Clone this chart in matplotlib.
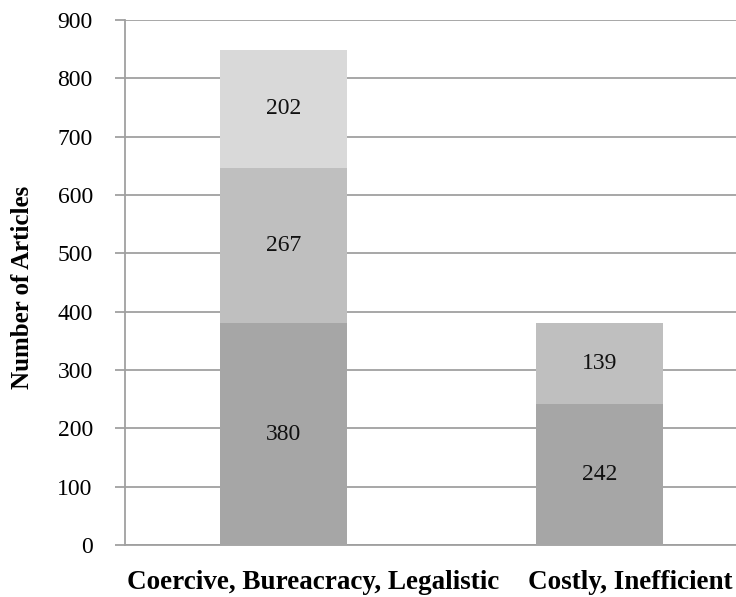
import matplotlib
matplotlib.use("Agg")
import matplotlib.pyplot as plt
import matplotlib.transforms as mtransforms
import numpy as np

categories = ["Coercive, Bureacracy, Legalistic", "Costly, Inefficient"]
series_bottom = [380, 242]
series_middle = [267, 139]
series_top = [202, 0]
yticks = [0, 100, 200, 300, 400, 500, 600, 700, 800, 900]

colors = ["#a6a6a6", "#bfbfbf", "#d9d9d9"]
serif = ["Liberation Serif", "DejaVu Serif"]

fig = plt.figure(figsize=(7.36, 5.97), dpi=100)
left_px, right_px = 125, 758
bottom_px, top_px = 545, 20
W, H = 736, 597
ax = fig.add_axes([left_px / W, (H - bottom_px) / H,
                   (right_px - left_px) / W, (bottom_px - top_px) / H])

x = np.arange(len(categories))
width = 0.40
layers = [series_bottom, series_middle, series_top]
base = np.zeros(len(categories))
for vals, c in zip(layers, colors):
    vals = np.array(vals, dtype=float)
    ax.bar(x, vals, width, bottom=base, color=c, zorder=3)
    for xi, b, v in zip(x, base, vals):
        if v > 0:
            ax.text(xi, b + v / 2, f"{int(v)}", ha="center", va="center",
                    fontsize=17, family=serif, color="#111111", zorder=4)
    base = base + vals

ax.set_xlim(-0.5, 1.5)
ax.set_ylim(0, 900)
ax.set_yticks(yticks)
ax.set_yticklabels([str(t) for t in yticks], family=serif, fontsize=17)
ax.yaxis.grid(True, color="#a0a0a0", linewidth=1.3, zorder=0)
ax.set_axisbelow(True)
ax.set_xticks(x)
ax.set_xticklabels(categories, family=serif, fontsize=19.5, fontweight="bold")
ax.tick_params(axis="x", length=0, pad=18)
ax.tick_params(axis="y", length=7.2, width=1.3, color="#a0a0a0", pad=16)
offset = mtransforms.ScaledTranslation(30 / 100, 0, fig.dpi_scale_trans)
for lab in ax.get_xticklabels():
    lab.set_transform(lab.get_transform() + offset)
for s in ["top", "right"]:
    ax.spines[s].set_visible(False)
for s in ["left", "bottom"]:
    ax.spines[s].set_color("#a0a0a0")
    ax.spines[s].set_linewidth(1.3)

fig.text(23 / W, 1 - 287 / H, "Number of Articles", family=serif, fontsize=18,
         fontweight="bold", rotation=90, ha="center", va="center")

fig.savefig("out.png", dpi=100)
